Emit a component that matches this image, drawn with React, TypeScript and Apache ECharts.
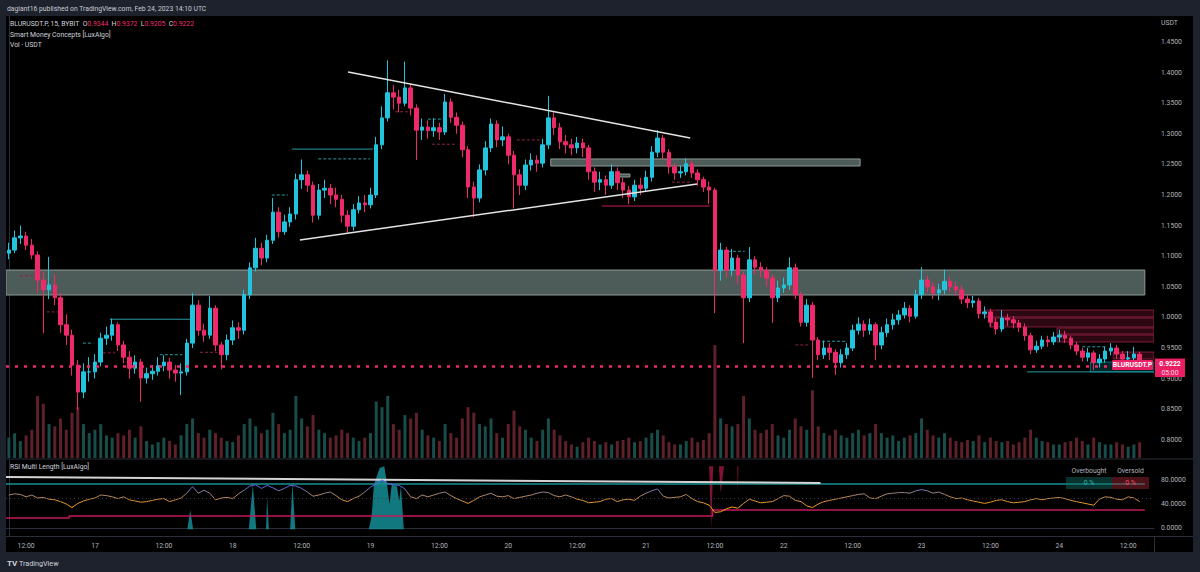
import React, { useEffect, useRef } from 'react';
import * as echarts from 'echarts';

// ---------- time slots (hourly, 16 Feb 09:00 -> 24 Feb 16:00) ----------
const START_DAY = 16;
const START_HOUR = 9;
const SLOTS = 200;

// ---------- price data (hourly OHLC) ----------
const FIRST_OPEN = 1.105;
const closes = [
  1.110, 1.130, 1.133, 1.118, 1.102, 1.061, 1.045, 1.053, 1.032, 0.988,
  0.971, 0.922, 0.878, 0.911, 0.911, 0.927, 0.966, 0.971, 0.988, 0.955,
  0.935, 0.917, 0.927, 0.901, 0.908, 0.912, 0.921, 0.927, 0.914, 0.909,
  0.911, 0.958, 1.020, 0.979, 0.971, 1.015, 0.955, 0.939, 0.963, 0.983,
  0.979, 1.037, 1.081, 1.113, 1.097, 1.126, 1.172, 1.140, 1.156, 1.169,
  1.225, 1.233, 1.216, 1.167, 1.208, 1.211, 1.200, 1.193, 1.167, 1.149,
  1.176, 1.187, 1.184, 1.200, 1.282, 1.326, 1.367, 1.360, 1.350, 1.375,
  1.342, 1.306, 1.311, 1.305, 1.310, 1.303, 1.352, 1.327, 1.314, 1.274,
  1.213, 1.195, 1.241, 1.277, 1.316, 1.290, 1.295, 1.265, 1.233, 1.216,
  1.249, 1.257, 1.252, 1.282, 1.326, 1.310, 1.287, 1.282, 1.277, 1.285,
  1.277, 1.238, 1.221, 1.225, 1.216, 1.238, 1.220, 1.208, 1.197, 1.216,
  1.211, 1.229, 1.270, 1.293, 1.270, 1.246, 1.236, 1.238, 1.251, 1.236,
  1.225, 1.213, 1.208, 1.077, 1.110, 1.077, 1.097, 1.069, 1.032, 1.094,
  1.082, 1.077, 1.064, 1.032, 1.048, 1.053, 1.081, 1.037, 0.992, 1.020,
  0.963, 0.939, 0.950, 0.943, 0.926, 0.939, 0.950, 0.979, 0.989, 0.979,
  0.988, 0.955, 0.975, 0.988, 0.996, 1.004, 1.015, 1.002, 1.037, 1.061,
  1.050, 1.040, 1.045, 1.059, 1.050, 1.045, 1.030, 1.024, 1.027, 1.006,
  1.009, 0.992, 0.981, 0.999, 0.996, 0.991, 0.984, 0.970, 0.947, 0.953,
  0.963, 0.960, 0.968, 0.971, 0.966, 0.955, 0.945, 0.935, 0.942, 0.926,
  0.932, 0.945, 0.950, 0.940, 0.932, 0.934, 0.940, 0.9222,
];
const highs = [
  1.122, 1.142, 1.150, 1.140, 1.128, 1.108, 1.075, 1.099, 1.070, 1.040,
  1.005, 0.980, 0.930, 0.925, 0.935, 0.940, 0.975, 0.985, 0.998, 0.992,
  0.962, 0.945, 0.938, 0.932, 0.918, 0.922, 0.935, 0.938, 0.934, 0.922,
  0.925, 0.965, 1.040, 1.028, 0.990, 1.035, 1.020, 0.960, 0.972, 0.995,
  0.992, 1.045, 1.090, 1.130, 1.122, 1.135, 1.195, 1.180, 1.168, 1.180,
  1.235, 1.258, 1.240, 1.222, 1.218, 1.225, 1.218, 1.212, 1.200, 1.175,
  1.185, 1.198, 1.200, 1.212, 1.295, 1.345, 1.420, 1.380, 1.372, 1.418,
  1.382, 1.348, 1.325, 1.322, 1.325, 1.318, 1.365, 1.358, 1.335, 1.320,
  1.280, 1.222, 1.250, 1.288, 1.325, 1.322, 1.312, 1.300, 1.272, 1.242,
  1.258, 1.268, 1.265, 1.292, 1.362, 1.335, 1.318, 1.298, 1.292, 1.295,
  1.292, 1.282, 1.245, 1.238, 1.232, 1.250, 1.245, 1.228, 1.215, 1.225,
  1.228, 1.240, 1.280, 1.306, 1.298, 1.275, 1.252, 1.248, 1.260, 1.256,
  1.242, 1.230, 1.222, 1.212, 1.122, 1.115, 1.112, 1.102, 1.075, 1.115,
  1.100, 1.090, 1.082, 1.070, 1.060, 1.065, 1.098, 1.088, 1.042, 1.030,
  1.025, 0.968, 0.962, 0.958, 0.948, 0.948, 0.958, 0.988, 1.000, 0.995,
  0.998, 0.992, 0.985, 0.998, 1.006, 1.012, 1.025, 1.020, 1.045, 1.082,
  1.068, 1.058, 1.055, 1.078, 1.066, 1.058, 1.052, 1.038, 1.035, 1.032,
  1.018, 1.014, 0.998, 1.012, 1.006, 1.002, 0.996, 0.990, 0.975, 0.962,
  0.970, 0.970, 0.976, 0.980, 0.978, 0.970, 0.960, 0.950, 0.950, 0.946,
  0.940, 0.952, 0.958, 0.955, 0.945, 0.945, 0.952, 0.944,
];
const lows = [
  1.095, 1.105, 1.120, 1.110, 1.095, 1.040, 0.974, 1.030, 1.020, 0.975,
  0.955, 0.905, 0.849, 0.868, 0.895, 0.900, 0.920, 0.955, 0.962, 0.945,
  0.925, 0.900, 0.908, 0.862, 0.892, 0.898, 0.905, 0.912, 0.900, 0.895,
  0.873, 0.905, 0.950, 0.970, 0.960, 0.965, 0.945, 0.915, 0.930, 0.955,
  0.965, 0.972, 1.030, 1.075, 1.085, 1.090, 1.120, 1.130, 1.135, 1.148,
  1.160, 1.210, 1.205, 1.155, 1.160, 1.195, 1.185, 1.180, 1.155, 1.138,
  1.142, 1.170, 1.172, 1.178, 1.195, 1.275, 1.320, 1.340, 1.335, 1.345,
  1.330, 1.257, 1.290, 1.292, 1.295, 1.290, 1.298, 1.318, 1.300, 1.262,
  1.195, 1.164, 1.188, 1.232, 1.270, 1.278, 1.280, 1.250, 1.178, 1.200,
  1.208, 1.240, 1.238, 1.245, 1.275, 1.298, 1.275, 1.268, 1.265, 1.268,
  1.262, 1.225, 1.205, 1.208, 1.200, 1.210, 1.208, 1.195, 1.185, 1.190,
  1.200, 1.205, 1.222, 1.262, 1.258, 1.235, 1.225, 1.228, 1.232, 1.228,
  1.215, 1.205, 1.185, 1.007, 1.060, 1.065, 1.068, 1.055, 0.958, 1.025,
  1.070, 1.065, 1.050, 0.991, 1.025, 1.040, 1.045, 1.030, 0.985, 0.985,
  0.901, 0.930, 0.932, 0.930, 0.906, 0.918, 0.932, 0.945, 0.972, 0.968,
  0.972, 0.930, 0.948, 0.968, 0.980, 0.988, 0.998, 0.992, 0.998, 1.030,
  1.040, 1.030, 1.028, 1.038, 1.042, 1.036, 1.022, 1.015, 1.016, 0.998,
  0.998, 0.984, 0.972, 0.976, 0.986, 0.982, 0.976, 0.962, 0.940, 0.942,
  0.948, 0.952, 0.955, 0.960, 0.958, 0.948, 0.938, 0.928, 0.928, 0.914,
  0.918, 0.926, 0.938, 0.932, 0.925, 0.924, 0.928, 0.918,
];
const volumes = [
  18, 22, 15, 20, 25, 55, 48, 30, 28, 35,
  25, 40, 45, 30, 22, 25, 30, 20, 18, 22,
  20, 25, 18, 28, 15, 12, 14, 18, 15, 12,
  20, 30, 35, 22, 18, 25, 22, 18, 15, 14,
  20, 30, 35, 28, 22, 25, 40, 30, 22, 25,
  55, 35, 28, 38, 25, 22, 18, 20, 25, 22,
  18, 15, 18, 22, 50, 45, 55, 30, 25, 38,
  35, 40, 25, 20, 18, 15, 30, 22, 18, 35,
  45, 40, 30, 28, 35, 22, 18, 30, 42, 28,
  25, 18, 15, 25, 35, 25, 20, 15, 12, 10,
  14, 18, 15, 12, 14, 12, 15, 16, 18, 14,
  15, 18, 22, 25, 20, 14, 12, 12, 15, 18,
  14, 16, 22, 100, 35, 30, 28, 30, 55, 35,
  25, 22, 25, 30, 20, 18, 25, 35, 28, 25,
  60, 28, 22, 20, 25, 20, 18, 22, 25, 20,
  22, 30, 22, 18, 20, 15, 18, 20, 22, 35,
  25, 20, 18, 22, 18, 15, 14, 16, 15, 20,
  14, 18, 15, 14, 15, 12, 14, 18, 25, 18,
  15, 14, 12, 12, 14, 15, 18, 15, 12, 18,
  14, 12, 12, 14, 12, 10, 12, 14,
];
const rsiValues = [
  55, 57, 56, 52, 55, 50, 51, 48, 47, 44,
  40, 34, 41, 45, 48, 50, 55, 54, 52, 49,
  52, 47, 45, 43, 44, 46, 48, 49, 44, 47,
  50, 58, 69, 58, 63, 58, 47, 50, 51, 49,
  57, 63, 70, 72, 66, 71, 67, 62, 66, 71,
  70, 66, 60, 53, 55, 58, 60, 54, 47, 44,
  49, 53, 60, 68, 74, 80, 74, 72, 71, 65,
  52, 49, 55, 52, 55, 58, 60, 54, 49, 45,
  41, 46, 52, 55, 58, 53, 52, 54, 49, 51,
  53, 55, 58, 60, 59, 54, 52, 55, 52, 48,
  46, 42, 43, 44, 48, 49, 44, 47, 48, 46,
  53, 58, 62, 65, 53, 50, 51, 52, 56, 49,
  44, 42, 38, 26, 27, 32, 35, 33, 41, 48,
  45, 42, 43, 44, 49, 54, 53, 46, 44, 37,
  34, 40, 44, 46, 48, 50, 52, 54, 56, 57,
  50, 49, 53, 57, 58, 59, 59, 58, 62, 64,
  62, 58, 60, 56, 52, 49, 50, 47, 45, 43,
  41, 43, 46, 47, 44, 42, 43, 44, 47, 49,
  47, 49, 50, 51, 49, 46, 44, 42, 40, 38,
  48, 52, 51, 48, 47, 52, 50, 44,
];
const LAST_PRICE = 0.9222;
const COUNTDOWN = '05:00';
const legendOHLC: [string, number][] = [['O', 0.9344], ['H', 0.9372], ['L', 0.9205], ['C', 0.9222]];

// ---------- axis ticks ----------
const priceTicks = [0.8, 0.85, 0.9, 0.95, 1.0, 1.05, 1.1, 1.15, 1.2, 1.25, 1.3, 1.35, 1.4, 1.45];
const rsiTicks = [0, 40, 80];
const PRICE_MIN = 0.770262;
const PRICE_MAX = 1.492484;
const RSI_MIN = -13.333;
const RSI_MAX = 113.333;

// ---------- drawings / indicator objects (slot index, price) ----------
const grayZones = [
  [-0.5, 197.9, 1.0774, 1.0366],
  [94.4, 148.3, 1.2589, 1.2474],
  [106.1, 108.2, 1.2343, 1.2294],
];
const orderBlocks = [
  [170.1, 199.5, 1.0121, 1.0007],
  [170.9, 199.5, 0.999, 0.9843],
  [182.6, 199.5, 0.9827, 0.9729],
  [182.6, 199.5, 0.9712, 0.9598],
  [192.4, 199.5, 0.9434, 0.932],
];
const demandZones = [[188.4, 199.5, 0.9271, 0.9108]];
const bullStructure = [
  [17.6, 31.9, 0.997],
  [49.3, 63.4, 1.275],
  [177.4, 199.5, 0.911],
];
const bullInternal = [
  [53.9, 62.9, 1.259],
  [125.3, 128.2, 1.108],
  [140.8, 145.7, 0.961],
  [187.0, 191.3, 0.952],
  [73.0, 75.6, 1.324],
  [26.3, 30.2, 0.939],
  [45.8, 48.6, 1.2],
  [12.9, 14.7, 0.958],
];
const bearStructure = [[103.3, 122.1, 1.182]];
const bearInternal = [
  [73.7, 77.7, 1.283],
  [67.3, 69.5, 1.336],
  [88.5, 92.5, 1.29],
  [115.5, 118.7, 1.221],
  [137.0, 139.6, 0.955],
  [6.6, 8.6, 1.009],
  [1.9, 4.2, 1.068],
  [15.5, 18.5, 0.942],
  [33.3, 36.3, 0.943],
];
const upperTrend = [[59.1, 1.401], [118.7, 1.2931]];
const lowerTrend = [[50.7, 1.1265], [119.9, 1.218]];

// ---------- RSI pane objects ----------
const overbought = [[-0.5, 73.3], [197.9, 73.3]];
const oversold = [[-0.5, 16.7], [10.5, 16.7], [10.5, 20], [122.6, 20], [122.6, 30], [197.9, 30]];
const rsiTrend = [[-0.5, 85], [141.4, 75]];
const obSpikes = [
  [-0.5, -2], [31.1, -2], [31.6, 30], [32.1, -2],
  [41.8, -2], [42.5, 72], [43.1, -2],
  [44.8, -2], [45.0, 52], [45.3, -2],
  [49.0, -2], [49.4, 75], [49.9, -2],
  [62.7, -2], [63.2, 20], [63.6, 72], [64.6, 100], [65.4, 103], [65.9, 72], [66.3, 40],
  [66.7, 72], [67.6, 70], [68.0, 45], [68.3, 70], [68.8, -2],
  [197.9, -2],
];
const osSpikes = [
  [-0.5, 103], [122.0, 103], [122.35, -2], [122.7, 103],
  [123.7, 103], [124.0, 58], [124.6, 103],
  [126.9, 103], [127.0, 58], [127.1, 103],
  [197.9, 103],
];

const FONT = 'Roboto, "Liberation Sans", Arial, sans-serif';
const FS = 6.8;
const UP = '#22c4dd';
const DOWN = '#ef2a6b';
const AXIS_TXT = '#b2b5be';
const LINE = '#2a2e39';

const slotInfo = Array.from({ length: SLOTS }, (_, i) => {
  const t = START_HOUR + i;
  return { day: START_DAY + Math.floor(t / 24), hour: t % 24 };
});
const categories = slotInfo.map((s) => `${s.day} ${String(s.hour).padStart(2, '0')}:00`);

const candleData = closes.map((c, i) => {
  const o = i === 0 ? FIRST_OPEN : closes[i - 1];
  return [o, c, lows[i], highs[i]];
});
const volData = volumes.map((v, i) => ({
  value: v,
  itemStyle: { color: candleData[i][1] >= candleData[i][0] ? '#184d4a' : '#5e2029' },
}));

function rectSeries(data: number[][], fill: string, stroke: string, z: number) {
  return {
    type: 'custom',
    xAxisIndex: 1,
    yAxisIndex: 0,
    z,
    silent: true,
    clip: true,
    encode: { x: [0, 1], y: [2, 3] },
    data,
    renderItem: (_p: any, api: any) => {
      const a = api.coord([api.value(0), api.value(2)]);
      const b = api.coord([api.value(1), api.value(3)]);
      return {
        type: 'rect',
        shape: { x: a[0], y: a[1], width: b[0] - a[0], height: b[1] - a[1] },
        style: { fill, stroke, lineWidth: 1 },
      };
    },
  };
}

function segSeries(data: number[][], color: string, dash: number[] | null, z = 2) {
  return {
    type: 'custom',
    xAxisIndex: 1,
    yAxisIndex: 0,
    z,
    silent: true,
    encode: { x: [0, 1], y: 2 },
    data,
    renderItem: (_p: any, api: any) => {
      const a = api.coord([api.value(0), api.value(2)]);
      const b = api.coord([api.value(1), api.value(2)]);
      return {
        type: 'line',
        shape: { x1: a[0], y1: a[1], x2: b[0], y2: b[1] },
        style: { stroke: color, lineWidth: 1, lineDash: dash || undefined },
      };
    },
  };
}

function txt(x: number, y: number, text: string, fill: string, opts: any = {}) {
  return {
    type: 'text',
    x,
    y,
    z: 101,
    silent: true,
    style: {
      text,
      fill,
      font: `${opts.weight || 'normal'} ${opts.size || FS}px ${FONT}`,
      textAlign: opts.align || 'left',
      align: opts.align || 'left',
      textVerticalAlign: 'middle',
      verticalAlign: 'middle',
    },
  };
}

function buildOption() {
  const series: any[] = [];
  series.push(rectSeries(grayZones, '#4d5c59', '#8c9a96', 1));
  series.push(rectSeries(orderBlocks, 'rgba(170,32,74,0.26)', 'rgba(214,48,96,0.55)', 1));
  series.push(rectSeries(demandZones, 'rgba(0,135,145,0.28)', 'rgba(0,170,180,0.6)', 1));
  series.push(segSeries(bullStructure, '#2a9aa3', null));
  series.push(segSeries(bullInternal, '#2a9aa3', [3, 2]));
  series.push(segSeries(bearStructure, '#c4225a', null));
  series.push(segSeries(bearInternal, '#8f2446', [3, 2]));
  series.push({
    type: 'candlestick',
    xAxisIndex: 0,
    yAxisIndex: 0,
    data: candleData,
    barWidth: 4,
    z: 3,
    silent: true,
    itemStyle: { color: UP, color0: DOWN, borderColor: UP, borderColor0: DOWN, borderWidth: 1 },
    markLine: {
      silent: true,
      symbol: ['none', 'none'],
      label: { show: false },
      lineStyle: { color: DOWN, type: [3, 6], width: 2.5, opacity: 1 },
      data: [{ yAxis: LAST_PRICE }],
    },
  });
  const trendStyle = { type: 'line', xAxisIndex: 1, yAxisIndex: 0, symbol: 'none', silent: true, z: 4,
    lineStyle: { color: '#e4e4e4', width: 1.5 } };
  series.push({ ...trendStyle, data: upperTrend });
  series.push({ ...trendStyle, data: lowerTrend });
  series.push({
    type: 'custom',
    xAxisIndex: 1,
    yAxisIndex: 0,
    z: 10,
    clip: false,
    silent: true,
    encode: { x: 0, y: 1 },
    data: [[SLOTS - 0.5, LAST_PRICE]],
    renderItem: (_p: any, api: any) => {
      const pt = api.coord([api.value(0), api.value(1)]);
      const x = pt[0];
      const y = pt[1];
      const st = (text: string, fill: string, weight = 'normal') => ({
        text, fill, font: `${weight} ${FS}px ${FONT}`,
        textAlign: 'center', align: 'center', textVerticalAlign: 'middle', verticalAlign: 'middle',
      });
      return {
        type: 'group',
        children: [
          { type: 'rect', shape: { x: x - 42, y: y - 5, width: 41, height: 10, r: 1 }, style: { fill: '#e91e63' } },
          { type: 'text', x: x - 21.5, y: y, style: st('BLURUSDT.P', '#ffffff', 'bold') },
          { type: 'rect', shape: { x: x + 1, y: y - 6.5, width: 30, height: 18.5 }, style: { fill: '#e91e63' } },
          { type: 'text', x: x + 16, y: y - 1, style: st(LAST_PRICE.toFixed(4), '#ffffff', 'bold') },
          { type: 'text', x: x + 16, y: y + 7.5, style: st(COUNTDOWN, '#ffd6e4') },
        ],
      };
    },
  });
  series.push({
    type: 'bar',
    xAxisIndex: 2,
    yAxisIndex: 1,
    data: volData,
    barWidth: 3,
    z: 1,
    silent: true,
  });
  series.push({
    type: 'line', xAxisIndex: 4, yAxisIndex: 2, data: obSpikes, symbol: 'none', silent: true, z: 1,
    lineStyle: { width: 0, opacity: 0 },
    areaStyle: { color: 'rgba(22,150,160,0.8)', origin: -2, opacity: 1 },
  });
  series.push({
    type: 'line', xAxisIndex: 4, yAxisIndex: 2, data: osSpikes, symbol: 'none', silent: true, z: 1,
    lineStyle: { width: 0, opacity: 0 },
    areaStyle: { color: 'rgba(150,22,62,0.85)', origin: 103, opacity: 1 },
  });
  series.push({
    type: 'line', xAxisIndex: 4, yAxisIndex: 2, data: overbought, symbol: 'none', silent: true, z: 2,
    lineStyle: { color: '#17908f', width: 1.5 },
  });
  series.push({
    type: 'line', xAxisIndex: 4, yAxisIndex: 2, data: oversold, symbol: 'none', silent: true, z: 2,
    lineStyle: { color: '#c2185b', width: 1.5 },
  });
  series.push({
    type: 'line', xAxisIndex: 4, yAxisIndex: 2, data: rsiTrend, symbol: 'none', silent: true, z: 3,
    lineStyle: { color: '#d4d4d4', width: 2 },
  });
  const rsiIndex = series.length;
  series.push({
    type: 'line', xAxisIndex: 3, yAxisIndex: 2, data: rsiValues, symbol: 'none', silent: true, z: 4,
    lineStyle: { width: 1 },
    markLine: {
      silent: true, symbol: ['none', 'none'], label: { show: false },
      lineStyle: { color: '#3a3d46', type: [1, 3], width: 1 },
      data: [{ yAxis: 50 }],
    },
  });

  const ohlcRich = legendOHLC.map(([k, v]) => `{w|  ${k}}{r|${v.toFixed(4)}}`).join('');

  return {
    animation: false,
    backgroundColor: '#000000',
    textStyle: { fontFamily: FONT },
    grid: [
      { left: 6, right: 46, top: 16, height: 442 },
      { left: 6, right: 46, top: 345, height: 113 },
      { left: 6, right: 46, top: 460, height: 76 },
    ],
    xAxis: [
      { type: 'category', gridIndex: 0, data: categories, show: false, splitLine: { show: false } },
      { type: 'value', gridIndex: 0, min: -0.5, max: SLOTS - 0.5, show: false, splitLine: { show: false } },
      { type: 'category', gridIndex: 1, data: categories, show: false, splitLine: { show: false } },
      {
        type: 'category', gridIndex: 2, data: categories,
        axisLine: { show: true, lineStyle: { color: LINE } },
        axisTick: { show: false },
        splitLine: { show: false },
        axisLabel: {
          color: AXIS_TXT, fontSize: FS, fontFamily: FONT, margin: 6,
          interval: (index: number) => slotInfo[index].hour % 12 === 0,
          formatter: (_v: string, index: number) =>
            slotInfo[index].hour === 0 ? String(slotInfo[index].day) : '12:00',
        },
      },
      { type: 'value', gridIndex: 2, min: -0.5, max: SLOTS - 0.5, show: false, splitLine: { show: false } },
    ],
    yAxis: [
      {
        type: 'value', gridIndex: 0, position: 'right', min: PRICE_MIN, max: PRICE_MAX,
        splitLine: { show: false }, axisTick: { show: false },
        axisLine: { show: true, lineStyle: { color: LINE } },
        axisLabel: {
          customValues: priceTicks, color: AXIS_TXT, fontSize: FS, fontFamily: FONT, margin: 7,
          formatter: (v: number) => v.toFixed(4),
        },
      },
      { type: 'value', gridIndex: 1, min: 0, max: 100, show: false, splitLine: { show: false } },
      {
        type: 'value', gridIndex: 2, position: 'right', min: RSI_MIN, max: RSI_MAX,
        splitLine: { show: false }, axisTick: { show: false },
        axisLine: { show: true, lineStyle: { color: LINE } },
        axisLabel: {
          customValues: rsiTicks, color: AXIS_TXT, fontSize: FS, fontFamily: FONT, margin: 7,
          formatter: (v: number) => v.toFixed(4),
        },
      },
    ],
    visualMap: {
      type: 'continuous', show: false, seriesIndex: rsiIndex, min: 36, max: 68,
      inRange: { color: ['#f7a01a', '#d08b3c', '#a08276', '#5a68e8'] },
    },
    series,
    graphic: [
      { type: 'rect', z: 100, silent: true, shape: { x: 0, y: 0, width: 1200, height: 16 }, style: { fill: '#1e222d' } },
      { type: 'rect', z: 100, silent: true, shape: { x: 0, y: 0, width: 6, height: 572 }, style: { fill: '#1e222d' } },
      { type: 'rect', z: 100, silent: true, shape: { x: 1193, y: 0, width: 7, height: 572 }, style: { fill: '#1e222d' } },
      { type: 'rect', z: 100, silent: true, shape: { x: 0, y: 552, width: 1200, height: 20 }, style: { fill: '#1e222d' } },
      { type: 'line', z: 100, silent: true, shape: { x1: 6, y1: 459, x2: 1193, y2: 459 }, style: { stroke: LINE, lineWidth: 1 } },
      { type: 'line', z: 100, silent: true, shape: { x1: 6, y1: 536.5, x2: 1193, y2: 536.5 }, style: { stroke: LINE, lineWidth: 1 } },
      { type: 'line', z: 100, silent: true, shape: { x1: 1154.5, y1: 536, x2: 1154.5, y2: 552 }, style: { stroke: LINE, lineWidth: 1 } },
      txt(7, 8.5, 'dagiant16 published on TradingView.com, Feb 24, 2023 14:10 UTC', '#c9ccd4'),
      {
        type: 'text', x: 10, y: 24, z: 101, silent: true,
        style: {
          text: `{w|BLURUSDT.P, 15, BYBIT}${ohlcRich}`,
          font: `${FS}px ${FONT}`,
          textVerticalAlign: 'middle', verticalAlign: 'middle',
          rich: {
            w: { fill: '#d1d4dc', textFill: '#d1d4dc', font: `${FS}px ${FONT}` },
            r: { fill: '#ef2f6e', textFill: '#ef2f6e', font: `${FS}px ${FONT}` },
          },
        },
      },
      txt(10, 34.5, 'Smart Money Concepts [LuxAlgo]', '#d1d4dc'),
      txt(10, 44.5, 'Vol · USDT', '#d1d4dc'),
      txt(1161, 23, 'USDT', AXIS_TXT),
      txt(10, 467, 'RSI Multi Length [LuxAlgo]', '#d1d4dc'),
      txt(1089, 470.5, 'Overbought', AXIS_TXT, { align: 'center' }),
      txt(1130.5, 470.5, 'Oversold', AXIS_TXT, { align: 'center' }),
      { type: 'rect', z: 100, silent: true, shape: { x: 1066, y: 477, width: 46, height: 12 }, style: { fill: 'rgba(20,110,105,0.45)' } },
      { type: 'rect', z: 100, silent: true, shape: { x: 1112, y: 477, width: 37, height: 12 }, style: { fill: 'rgba(150,35,50,0.5)' } },
      txt(1089, 483, '0 %', '#2ab3a6', { align: 'center' }),
      txt(1130.5, 483, '0 %', '#f2465a', { align: 'center' }),
      txt(7, 563, 'TV', '#d1d4dc', { weight: 'bold', size: 8 }),
      txt(19, 563, 'TradingView', '#d1d4dc', { size: 7.2 }),
    ],
  };
}

export default function App() {
  const ref = useRef<HTMLDivElement>(null);
  useEffect(() => {
    if (!ref.current) return;
    const chart = echarts.init(ref.current, null, { renderer: 'svg' });
    chart.setOption(buildOption() as any);
    return () => chart.dispose();
  }, []);
  return (
    <div
      ref={ref}
      style={{ position: 'fixed', left: 0, top: 0, width: 1200, height: 572 }}
    />
  );
}
